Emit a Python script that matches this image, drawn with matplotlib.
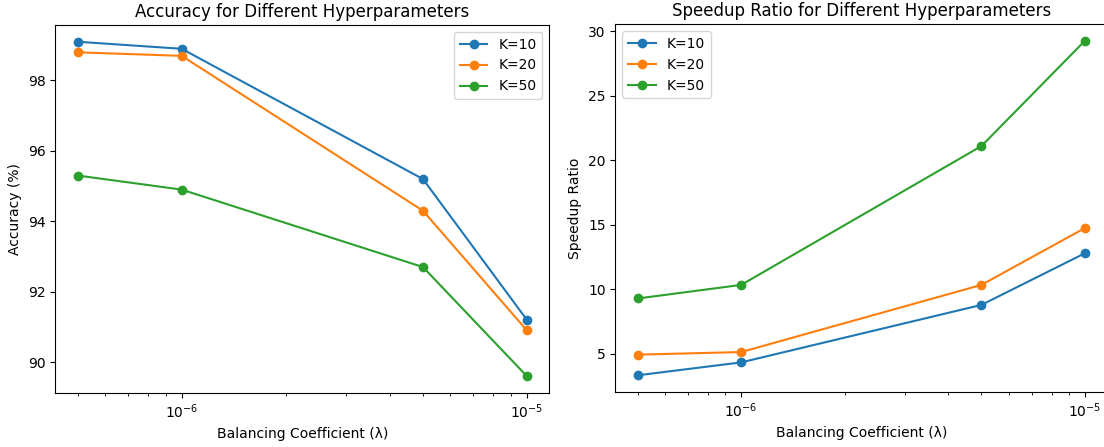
import matplotlib.pyplot as plt

# Balancing coefficient values
lambdas = [5e-7, 1e-6, 5e-6, 1e-5]
k_labels = ["K=10", "K=20", "K=50"]

# Accuracy (%)
acc_k10 = [99.1, 98.9, 95.2, 91.2]
acc_k20 = [98.8, 98.7, 94.3, 90.9]
acc_k50 = [95.3, 94.9, 92.7, 89.6]

# Speedup ratio
speed_k10 = [3.35, 4.35, 8.8, 12.8]
speed_k20 = [4.95, 5.15, 10.35, 14.75]
speed_k50 = [9.3, 10.35, 21.1, 29.25]

fig, (ax1, ax2) = plt.subplots(1, 2, figsize=(11.04, 4.47), dpi=100)

for vals, lab in zip([acc_k10, acc_k20, acc_k50], k_labels):
    ax1.plot(lambdas, vals, marker='o', label=lab)
ax1.set_xscale('log')
ax1.set_xlabel('Balancing Coefficient (λ)')
ax1.set_ylabel('Accuracy (%)')
ax1.set_title('Accuracy for Different Hyperparameters')
ax1.legend()

for vals, lab in zip([speed_k10, speed_k20, speed_k50], k_labels):
    ax2.plot(lambdas, vals, marker='o', label=lab)
ax2.set_xscale('log')
ax2.set_xlabel('Balancing Coefficient (λ)')
ax2.set_ylabel('Speedup Ratio')
ax2.set_title('Speedup Ratio for Different Hyperparameters')
ax2.legend()

# place axes as in the original (right panel runs slightly past the edge)
ax1.set_position([0.0501, 0.121, 0.4475, 0.823])
ax2.set_position([0.5574, 0.123, 0.4455, 0.823])

plt.savefig("out.png")
